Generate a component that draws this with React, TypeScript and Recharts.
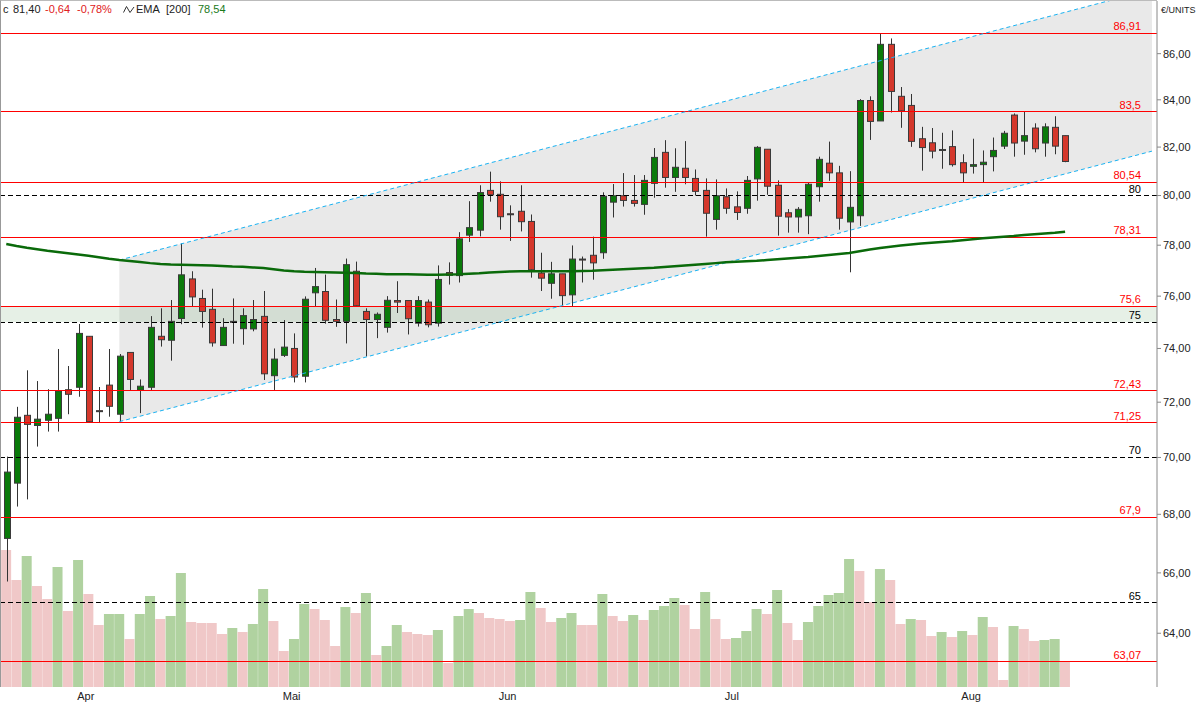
import React from 'react'
import { ComposedChart, Bar, Line, Area, XAxis, YAxis, ReferenceLine, ReferenceArea, Cell } from 'recharts'

const FONT = '"Liberation Sans", Arial, sans-serif'

// daily candles, 21 Mar - 14 Aug
const opens = [
  67.17, 69.09, 71.52, 71.15, 71.34, 71.41, 72.46, 72.55, 74.46, 71.69,
  72.63, 71.56, 73.85, 72.45, 72.55, 74.46, 74.31, 75.14, 76.67, 75.91,
  75.49, 74.11, 75.03, 74.75, 74.74, 75.22, 72.98, 73.74, 74.0, 72.96,
  76.13, 76.18, 75.1, 75.03, 76.97, 75.41, 75.1, 74.8, 75.83, 75.83,
  74.96, 75.77, 74.96, 76.92, 76.8, 78.4, 78.6, 80.21, 80.05, 79.26,
  79.36, 78.95, 76.9, 76.5, 76.87, 76.05, 77.45, 77.6, 77.7, 79.73,
  79.99, 79.8, 79.64, 80.5, 81.78, 80.74, 81.12, 80.7, 80.21, 79.03,
  79.95, 79.54, 79.48, 80.68, 81.91, 80.42, 79.3, 79.13, 79.18, 80.36,
  81.33, 80.93, 78.93, 79.18, 83.97, 83.1, 86.41, 84.15, 83.76, 82.35,
  82.18, 81.86, 82.02, 81.35, 81.2, 81.27, 81.6, 82.04, 83.35, 82.25,
  82.8, 82.17, 82.83, 82.48,
]
const highs = [
  70.03, 71.83, 73.18, 72.78, 72.48, 73.98, 73.34, 74.93, 74.46, 72.56,
  73.98, 73.79, 73.85, 72.84, 75.23, 75.53, 75.85, 78.07, 76.97, 76.25,
  76.29, 75.15, 75.91, 75.53, 75.85, 76.2, 74.0, 75.08, 74.57, 75.99,
  77.1, 76.84, 75.87, 77.47, 77.35, 75.53, 75.37, 76.0, 76.58, 75.83,
  76.0, 75.87, 77.2, 77.32, 78.52, 79.77, 80.42, 80.98, 80.58, 79.6,
  80.42, 79.23, 77.7, 77.34, 76.87, 77.99, 77.55, 78.34, 80.13, 80.47,
  80.92, 80.84, 80.84, 81.96, 82.29, 81.95, 82.25, 81.07, 80.7, 80.66,
  80.29, 80.17, 80.8, 82.04, 81.91, 80.62, 79.45, 79.53, 80.54, 81.6,
  82.23, 81.22, 81.0, 84.03, 84.15, 86.91, 86.67, 84.55, 84.25, 82.85,
  82.8, 82.6, 82.7, 81.7, 82.35, 81.86, 82.4, 82.68, 83.42, 83.48,
  83.0, 83.0, 83.3, 82.48,
]
const lows = [
  65.71, 68.27, 68.52, 70.39, 70.93, 70.93, 71.56, 72.2, 71.29, 71.24,
  71.47, 71.29, 72.45, 71.6, 72.45, 74.07, 73.54, 74.92, 75.6, 74.79,
  74.07, 74.11, 74.18, 74.14, 74.65, 72.82, 72.45, 73.68, 72.73, 72.73,
  75.6, 74.94, 74.82, 74.19, 75.63, 73.7, 74.39, 74.6, 75.35, 74.53,
  74.83, 74.8, 74.83, 76.45, 76.53, 78.13, 78.35, 79.75, 78.62, 78.17,
  78.55, 76.72, 76.2, 75.9, 75.65, 75.6, 76.53, 76.64, 77.46, 79.11,
  79.55, 79.55, 79.22, 79.91, 80.32, 80.15, 80.46, 80.0, 78.34, 78.62,
  79.26, 79.01, 79.26, 79.79, 80.03, 78.38, 78.5, 78.5, 78.44, 79.75,
  80.6, 78.62, 76.93, 78.77, 82.3, 83.1, 83.46, 82.81, 82.01, 81.02,
  81.53, 81.1, 81.19, 80.54, 80.9, 80.54, 80.99, 81.92, 81.6, 81.68,
  81.78, 81.6, 81.7, 81.37,
]
const closes = [
  69.48, 71.45, 71.19, 71.38, 71.56, 72.41, 72.29, 74.57, 71.29, 71.66,
  71.85, 73.71, 72.84, 72.59, 74.8, 74.33, 75.03, 76.83, 75.97, 75.41,
  74.21, 74.8, 75.0, 75.25, 75.1, 73.05, 73.6, 74.05, 72.93, 75.88,
  76.37, 75.07, 75.03, 77.23, 75.63, 75.1, 75.3, 75.84, 75.77, 75.13,
  75.83, 74.9, 76.65, 76.81, 78.25, 78.7, 80.12, 80.03, 79.14, 79.22,
  78.94, 77.03, 76.7, 76.87, 76.02, 77.45, 77.42, 77.3, 79.97, 79.99,
  79.8, 79.68, 80.62, 81.57, 80.74, 81.16, 80.74, 80.17, 79.28, 79.99,
  79.48, 79.31, 80.62, 81.99, 80.38, 79.16, 79.13, 79.44, 80.46, 81.49,
  80.93, 79.08, 79.52, 83.97, 83.08, 86.41, 84.36, 83.53, 82.24, 81.98,
  81.83, 81.9, 81.27, 80.93, 81.27, 81.37, 81.86, 82.58, 82.17, 82.48,
  81.93, 82.85, 82.04, 81.4,
]
const ema200 = [
  78.05, 77.97, 77.9, 77.84, 77.78, 77.73, 77.68, 77.63, 77.58, 77.52,
  77.46, 77.41, 77.37, 77.33, 77.29, 77.26, 77.24, 77.23, 77.22, 77.21,
  77.2, 77.18, 77.16, 77.15, 77.12, 77.1, 77.05, 77.0, 76.97, 76.95,
  76.94, 76.93, 76.92, 76.91, 76.9, 76.88, 76.87, 76.85, 76.85, 76.85,
  76.84, 76.83, 76.83, 76.84, 76.85, 76.87, 76.89, 76.92, 76.94, 76.96,
  76.97, 76.97, 76.97, 76.97, 76.97, 76.97, 76.98, 76.99, 77.01, 77.03,
  77.05, 77.07, 77.09, 77.11, 77.14, 77.17, 77.2, 77.23, 77.26, 77.29,
  77.32, 77.34, 77.36, 77.38, 77.41, 77.44, 77.47, 77.5, 77.53, 77.57,
  77.61, 77.65, 77.69, 77.76, 77.83, 77.89, 77.94, 77.99, 78.03, 78.07,
  78.1, 78.13, 78.16, 78.2, 78.24, 78.28, 78.31, 78.34, 78.37, 78.41,
  78.44, 78.47, 78.5, 78.54,
]
// volume in thousand units
const volumes = [
  137, 107, 131, 101, 88, 120, 76, 127, 93, 62,
  73, 73, 48, 73, 91, 68, 71, 114, 65, 64,
  64, 53, 59, 55, 63, 98, 66, 36, 48, 83,
  78, 67, 41, 80, 74, 94, 32, 41, 62, 55,
  53, 52, 57, 24, 71, 78, 74, 69, 68, 66,
  67, 95, 79, 65, 69, 74, 62, 62, 93, 71,
  66, 72, 67, 77, 81, 89, 82, 58, 95, 68,
  48, 49, 56, 78, 73, 97, 64, 47, 65, 81,
  92, 94, 128, 116, 85, 118, 107, 63, 68, 67,
  51, 55, 50, 56, 52, 70, 60, 7, 61, 58,
  46, 47, 48, 25,
]
const volumeUp = [
  0, 0, 1, 0, 0, 1, 0, 1, 0, 0,
  1, 1, 0, 1, 1, 0, 1, 1, 0, 0,
  0, 0, 1, 0, 1, 1, 0, 0, 1, 1,
  0, 0, 0, 1, 0, 1, 0, 1, 1, 0,
  0, 0, 1, 0, 1, 1, 0, 0, 0, 0,
  1, 1, 0, 0, 1, 1, 0, 0, 1, 0,
  0, 1, 0, 1, 1, 1, 0, 0, 1, 0,
  0, 1, 1, 1, 0, 1, 0, 0, 1, 1,
  1, 1, 1, 0, 0, 1, 0, 0, 1, 0,
  0, 1, 0, 1, 0, 1, 0, 0, 1, 0,
  0, 1, 1, 0,
]

const monthTicks = [8, 28, 49, 71, 94]
const monthLabels = ['Apr', 'Mai', 'Jun', 'Jul', 'Aug']
const priceTicks = [64, 66, 68, 70, 72, 74, 76, 78, 80, 82, 84, 86]

const levels = [86.91, 83.5, 80.54, 78.31, 75.6, 72.43, 71.25, 67.9, 63.07]
const levelLabels = ['86,91', '83,5', '80,54', '78,31', '75,6', '72,43', '71,25', '67,9', '63,07']
const roundLevels = [80, 75, 70, 65]

// trend channel (start at candle 12, runs to the right edge)
const channelIdx = [12, 112.45]
const channelLow = [71.29, 81.83]
const channelHigh = [77.41, 88.86]

const candles = opens.map((o, k) => ({
  i: k + 1,
  open: o,
  high: highs[k],
  low: lows[k],
  close: closes[k],
  range: [lows[k], highs[k]],
  ema: ema200[k],
  vol: volumes[k],
}))

const channel = channelIdx.map((i, k) => ({
  i,
  lo: channelLow[k],
  hi: channelHigh[k],
  band: [channelLow[k], channelHigh[k]],
}))

const fmt = (v: number) => v.toFixed(2).replace('.', ',')

function Candle(props: any) {
  const { x, y, width, height, payload } = props
  if (!payload) return null
  const { open, close, high, low } = payload
  const lh = Math.log(high)
  const span = lh - Math.log(low) || 1
  const py = (p: number) => y + ((lh - Math.log(p)) / span) * height
  const cx = Math.round(x + width / 2) + 0.5
  const top = py(Math.max(open, close))
  const bot = py(Math.min(open, close))
  const up = close > open
  return (
    <g>
      <line x1={cx} x2={cx} y1={y} y2={y + height} stroke="#333" strokeWidth={1} />
      <rect
        x={cx - 3}
        y={top}
        width={6}
        height={Math.max(bot - top, 1)}
        fill={up ? '#0a7a0a' : '#d4382c'}
        stroke="#3a3a3a"
        strokeWidth={1}
      />
    </g>
  )
}

function LevelLabel(props: any) {
  const { viewBox, text, color } = props
  if (!viewBox) return null
  return (
    <text
      x={viewBox.x + viewBox.width - 16}
      y={viewBox.y - 3}
      textAnchor="end"
      fontSize={11}
      fontFamily={FONT}
      fill={color}
    >
      {text}
    </text>
  )
}

// month label sits just under the tick mark, starting at the tick
function MonthTick(props: any) {
  const { x, payload } = props
  const idx = monthTicks.indexOf(payload.value)
  return (
    <text x={x - 1} y={700} fontSize={11} fontFamily={FONT} fill="#222">
      {monthLabels[idx]}
    </text>
  )
}

export default function App() {
  return (
    <div style={{ position: 'absolute', left: 0, top: 0, width: 1200, height: 706, background: '#fff' }}>
      <ComposedChart width={1200} height={706} data={candles} margin={{ top: 1, right: 0, bottom: 0, left: 0 }}>
        <XAxis
          xAxisId="x"
          dataKey="i"
          type="number"
          domain={[0.39, 112.94]}
          allowDataOverflow
          ticks={monthTicks}
          tick={<MonthTick />}
          tickSize={4}
          height={19}
          stroke="#888"
          interval={0}
        />
        <XAxis xAxisId="v" dataKey="i" type="number" domain={[0.39, 112.94]} allowDataOverflow hide />
        <YAxis
          yAxisId="p"
          orientation="right"
          scale="log"
          domain={[62.27, 88.34]}
          allowDataOverflow
          ticks={priceTicks}
          tickFormatter={fmt}
          tickSize={4}
          tickMargin={2}
          width={43}
          stroke="#888"
          tick={{ fontSize: 11, fontFamily: FONT, fill: '#222' }}
          interval={0}
        />
        <YAxis yAxisId="v" domain={[0, 686]} hide />

        <Area
          xAxisId="x"
          yAxisId="p"
          data={channel}
          dataKey="band"
          type="linear"
          fill="#e9e9e9"
          fillOpacity={1}
          stroke="none"
          isAnimationActive={false}
        />
        <ReferenceArea xAxisId="x" yAxisId="p" y1={75} y2={75.6} fill="#5a9a5a" fillOpacity={0.15} stroke="none" />

        <Bar xAxisId="v" yAxisId="v" dataKey="vol" barSize={10} isAnimationActive={false}>
          {candles.map((d, k) => (
            <Cell key={`v-${k}`} fill={volumeUp[k] ? '#b0d2a0' : '#f0c8c8'} />
          ))}
        </Bar>

        {levels.map((v, k) => (
          <ReferenceLine
            key={`l-${k}`}
            xAxisId="x"
            yAxisId="p"
            y={v}
            stroke="#ff0000"
            strokeWidth={1}
            shapeRendering="crispEdges"
            label={<LevelLabel text={levelLabels[k]} color="#ff0000" />}
          />
        ))}
        {roundLevels.map((v, k) => (
          <ReferenceLine
            key={`r-${k}`}
            xAxisId="x"
            yAxisId="p"
            y={v}
            stroke="#000"
            strokeWidth={1}
            strokeDasharray="5 3"
            shapeRendering="crispEdges"
            label={<LevelLabel text={String(v)} color="#000" />}
          />
        ))}

        <Line xAxisId="x" yAxisId="p" data={channel} dataKey="hi" type="linear" stroke="#19b2f2" strokeWidth={1} strokeDasharray="4 3" dot={false} isAnimationActive={false} />
        <Line xAxisId="x" yAxisId="p" data={channel} dataKey="lo" type="linear" stroke="#19b2f2" strokeWidth={1} strokeDasharray="4 3" dot={false} isAnimationActive={false} />

        <Line xAxisId="x" yAxisId="p" dataKey="ema" type="linear" stroke="#0a6a0a" strokeWidth={2.5} dot={false} isAnimationActive={false} />

        <Bar xAxisId="x" yAxisId="p" dataKey="range" barSize={7} shape={<Candle />} isAnimationActive={false} />
      </ComposedChart>

      <div style={{ position: 'absolute', left: 0, top: 0, width: 1157, height: 687, borderLeft: '1px solid #999', borderTop: '1px solid #bbb', boxSizing: 'border-box', pointerEvents: 'none' }} />

      <div style={{ position: 'absolute', left: 0, top: 2, fontFamily: FONT, fontSize: 11, lineHeight: '14px', whiteSpace: 'nowrap' }}>
        <span style={{ position: 'absolute', left: 3, color: '#222' }}>c</span>
        <span style={{ position: 'absolute', left: 13, color: '#222' }}>81,40</span>
        <span style={{ position: 'absolute', left: 45, color: '#e02020' }}>-0,64</span>
        <span style={{ position: 'absolute', left: 77, color: '#e02020' }}>-0,78%</span>
        <svg style={{ position: 'absolute', left: 123, top: 3 }} width={12} height={9}>
          <polyline points="0.5,7.5 3.5,1.5 7,7.5 11,2" fill="none" stroke="#333" strokeWidth={1} />
        </svg>
        <span style={{ position: 'absolute', left: 136, color: '#222' }}>EMA</span>
        <span style={{ position: 'absolute', left: 166, color: '#222' }}>[200]</span>
        <span style={{ position: 'absolute', left: 198, color: '#1a7a1a' }}>78,54</span>
      </div>
      <div style={{ position: 'absolute', left: 1161, top: 5, fontFamily: FONT, fontSize: 9, color: '#222' }}>€/UNITS</div>
    </div>
  )
}
